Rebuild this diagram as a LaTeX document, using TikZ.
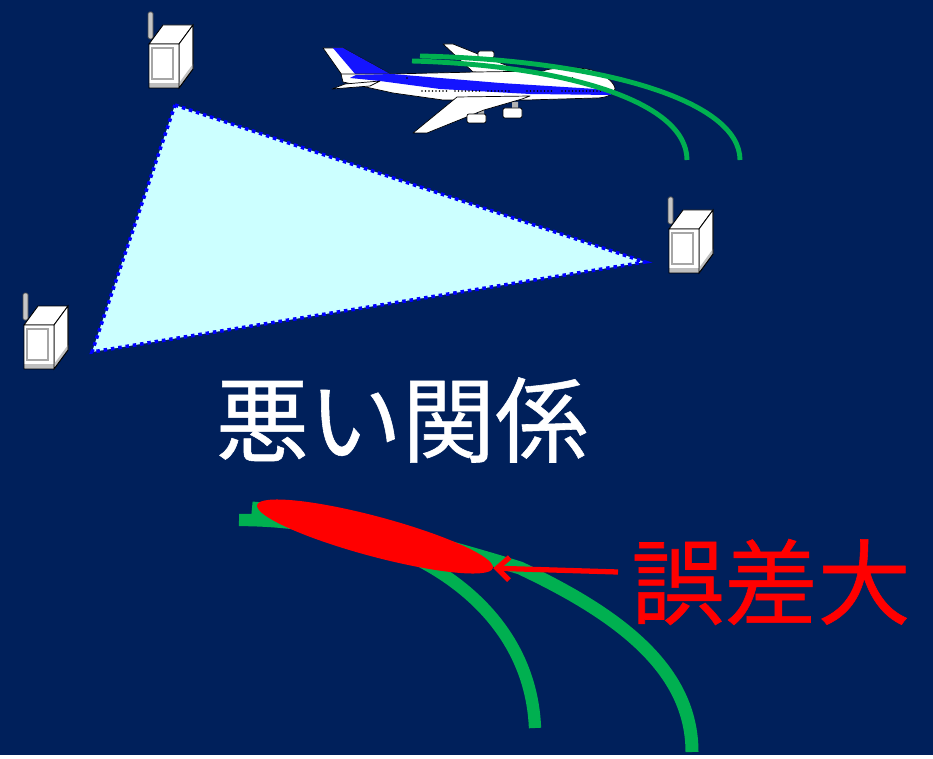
\documentclass[tikz,border=0pt]{standalone}
\usepackage{fontspec}
\newfontfamily\jpfont[FakeBold=0.6]{Noto Sans CJK JP}
\usetikzlibrary{arrows.meta,shapes.geometric}

\definecolor{navy}{RGB}{0,32,91}
\definecolor{paleCyan}{RGB}{204,255,255}
\definecolor{trackGreen}{RGB}{0,176,80}
\definecolor{jetBlue}{RGB}{20,20,255}

\tikzset{
  bigtext/.style={font=\jpfont\fontsize{53}{53}\selectfont, inner sep=0pt},
  track/.style={trackGreen, line cap=butt},
  skin/.style={fill=white, draw=black, line width=0.4pt, line join=round},
  station/.pic={
    \filldraw[fill=gray!45, draw=black!70, line width=0.4pt, rounded corners=0.03cm] (-1,-5) rectangle (4,-32);
    \filldraw[fill=white, line width=0.5pt] (0,0) -- (14,-19) -- (44,-19) -- (30,0) -- cycle;
    \filldraw[fill=white, line width=0.5pt] (30,0) -- (44,-19) -- (44,25) -- (30,44) -- cycle;
    \fill[gray!50] (30,39) -- (44,20) -- (44,25) -- (30,44) -- cycle;
    \fill[white] (0,0) rectangle (30,44);
    \fill[gray!50] (0,39) rectangle (30,44);
    \draw[line width=0.5pt] (0,0) rectangle (30,44) (30,44) -- (44,25) -- (44,-19);
    \draw[gray!70, line width=1pt] (3,4) rectangle (24,35);
  }
}

\begin{document}
\begin{tikzpicture}[x=0.02cm, y=-0.02cm]
\fill[navy] (0,0) rectangle (933,755);

% coverage triangle
\coordinate (tA) at (175,105);
\coordinate (tB) at (645,262);
\coordinate (tC) at (92,352);
\filldraw[fill=paleCyan, draw=blue, line width=2pt, dash pattern=on 2pt off 2.2pt] (tA) -- (tB) -- (tC) -- cycle;

\pic at (149,44) {station};
\pic at (669,229) {station};
\pic at (24,325) {station};

% jumbo jet
\filldraw[skin] (443,44) -- (453,44) -- (528,74) -- (473,72) -- cycle;
\filldraw[skin, rounded corners=0.04cm] (478,51) rectangle (494,58);
\filldraw[skin] (323,48) -- (343,48) -- (392,75) -- (342,75) -- cycle;
\fill[jetBlue] (333,48) -- (343,48) -- (392,75) -- (356,75) -- cycle;
\filldraw[skin] (341,74) -- (390,74) -- (477,72) -- (543,71)
  .. controls (552,67) and (585,66) .. (597,72)
  .. controls (608,77) and (615,84) .. (615,89)
  .. controls (614,95) and (605,98) .. (596,98)
  -- (527,100) -- (443,100) -- (393,93) -- (343,82) -- cycle;
\fill[jetBlue] (356,75) -- (392,74) -- (500,83) -- (612,90) -- (611,95) -- (530,94) -- (440,89) -- (380,81) -- (350,78) -- cycle;
\foreach \x in {422,425.5,...,447,455,458.5,...,480,488,491.5,...,512,527,530.5,...,553,562,565.5,...,605}
  \fill (\x,91) circle (0.9);
\foreach \x in {407,555,558.5,...,574}
  \fill (\x,78) circle (0.8);
\filldraw[skin] (332,89) -- (345,84) -- (380,81) -- (370,86) -- cycle;
\fill[gray!60] (478,108) rectangle (484,116) (512,102) rectangle (518,110);
\filldraw[skin] (457,97) -- (530,96) -- (522,99) -- (484,110) -- (427,133) -- (413,133) -- cycle;
\filldraw[skin, rounded corners=0.04cm] (467,114) rectangle (486,123);
\filldraw[skin, rounded corners=0.04cm] (503,108) rectangle (522,118);

% tracks near the jet
\draw[track, line width=2.8pt] (412,61) .. controls (560,65) and (687,100) .. (687,160);
\draw[track, line width=2.8pt] (420,56) .. controls (600,60) and (740,100) .. (740,160);

\node[bigtext, text=white] (badfix) at (402,420) {悪い関係};

% tracks with the error region
\draw[track, line width=7pt] (239,520) .. controls (400,520) and (530,600) .. (535,728);
\draw[track, line width=7.4pt] (252,508) .. controls (330,515) and (430,540) .. (520,568)
  .. controls (620,615) and (692,670) .. (692,752);
\node[ellipse, fill=red, minimum width=4.88cm, minimum height=0.8cm, inner sep=0pt, rotate=-15] (blob) at (375,536.5) {};

\node[bigtext, text=red] (bigerr) at (771,582) {誤差大};
\coordinate (errtail) at (618,572);
\draw[red, line width=3pt, -{Straight Barb[length=7pt, width=13pt]}] (errtail) -- (blob.east);
\end{tikzpicture}
\end{document}
